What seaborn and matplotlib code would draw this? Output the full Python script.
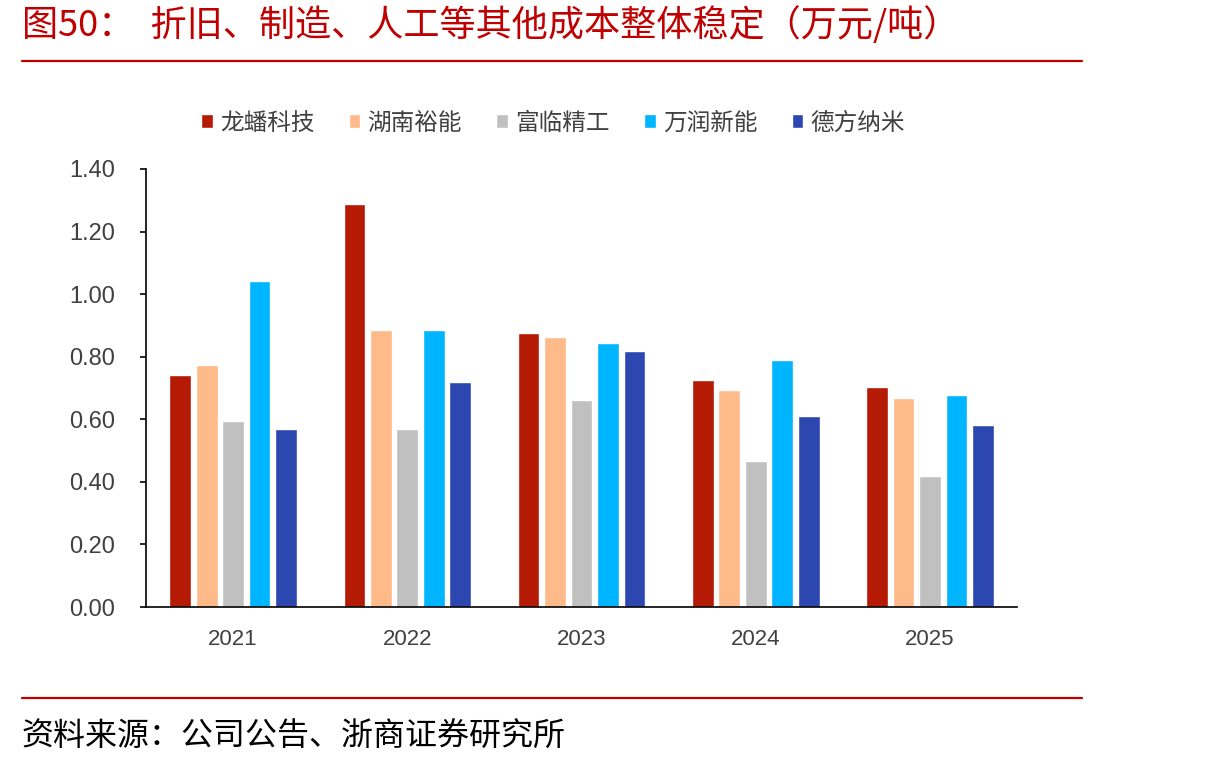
import pandas as pd
import seaborn as sns
import matplotlib.pyplot as plt
from matplotlib.lines import Line2D

# data (万元/吨)
years = ['2021', '2022', '2023', '2024', '2025']
companies = ['龙蟠科技', '湖南裕能', '富临精工', '万润新能', '德方纳米']
longpan = [0.743, 1.289, 0.876, 0.726, 0.704]
yuneng = [0.774, 0.885, 0.862, 0.695, 0.669]
fulin = [0.594, 0.568, 0.661, 0.468, 0.418]
wanrun = [1.042, 0.885, 0.845, 0.788, 0.678]
defang = [0.568, 0.718, 0.819, 0.611, 0.581]
colors = ['#B41A04', '#FFBA8A', '#BFC0BF', '#00B5FF', '#2C48B0']

series = [longpan, yuneng, fulin, wanrun, defang]
df = pd.DataFrame({
    'year': years * len(companies),
    'company': [c for c in companies for _ in years],
    'value': [v for s in series for v in s],
})

sns.set_style('white')
plt.rcParams['font.family'] = ['Noto Sans CJK SC', 'DejaVu Sans']

fig = plt.figure(figsize=(12.1, 7.67), dpi=100)
ax = fig.add_axes([0.1207, 0.2086, 0.7198, 0.5711])

sns.barplot(data=df, x='year', y='value', hue='company', palette=colors,
            width=0.76, gap=0.18, ax=ax, saturation=1)

ax.set_ylim(0, 1.4)
ax.set_yticks([i * 0.2 for i in range(8)])
ax.set_yticklabels([f'{i * 0.2:.2f}' for i in range(8)])
ax.set_xlabel('')
ax.set_ylabel('')
for s in ['top', 'right']:
    ax.spines[s].set_visible(False)
for s in ['left', 'bottom']:
    ax.spines[s].set_color('#000000')
    ax.spines[s].set_linewidth(1.2)
ax.tick_params(axis='y', direction='out', length=4, width=1.2, left=True,
               labelsize=17, colors='#000000', labelcolor='#404040', pad=18)
ax.tick_params(axis='x', length=0, labelsize=16, labelcolor='#404040', pad=16)
for lab in ax.get_xticklabels() + ax.get_yticklabels():
    lab.set_fontfamily('Liberation Sans')

handles, labels = ax.get_legend_handles_labels()
ax.legend(handles, labels, ncol=5, frameon=False, loc='center',
          bbox_to_anchor=(0.457, 0.8396), bbox_transform=fig.transFigure,
          fontsize=17, handlelength=0.5, handleheight=0.5, handletextpad=0.3,
          columnspacing=1.45, labelcolor='#404040')

fig.text(0.018, 0.967, '图50：  折旧、制造、人工等其他成本整体稳定（万元/吨）',
         color='#C00000', fontsize=26, ha='left', va='center')
fig.add_artist(Line2D([0.018, 0.894], [0.920, 0.920], color='#C00000', lw=1.6))
fig.add_artist(Line2D([0.018, 0.894], [0.090, 0.090], color='#C00000', lw=1.6))
fig.text(0.018, 0.039, '资料来源：公司公告、浙商证券研究所',
         color='#000000', fontsize=23, ha='left', va='center')

fig.savefig('out.png', dpi=100)
